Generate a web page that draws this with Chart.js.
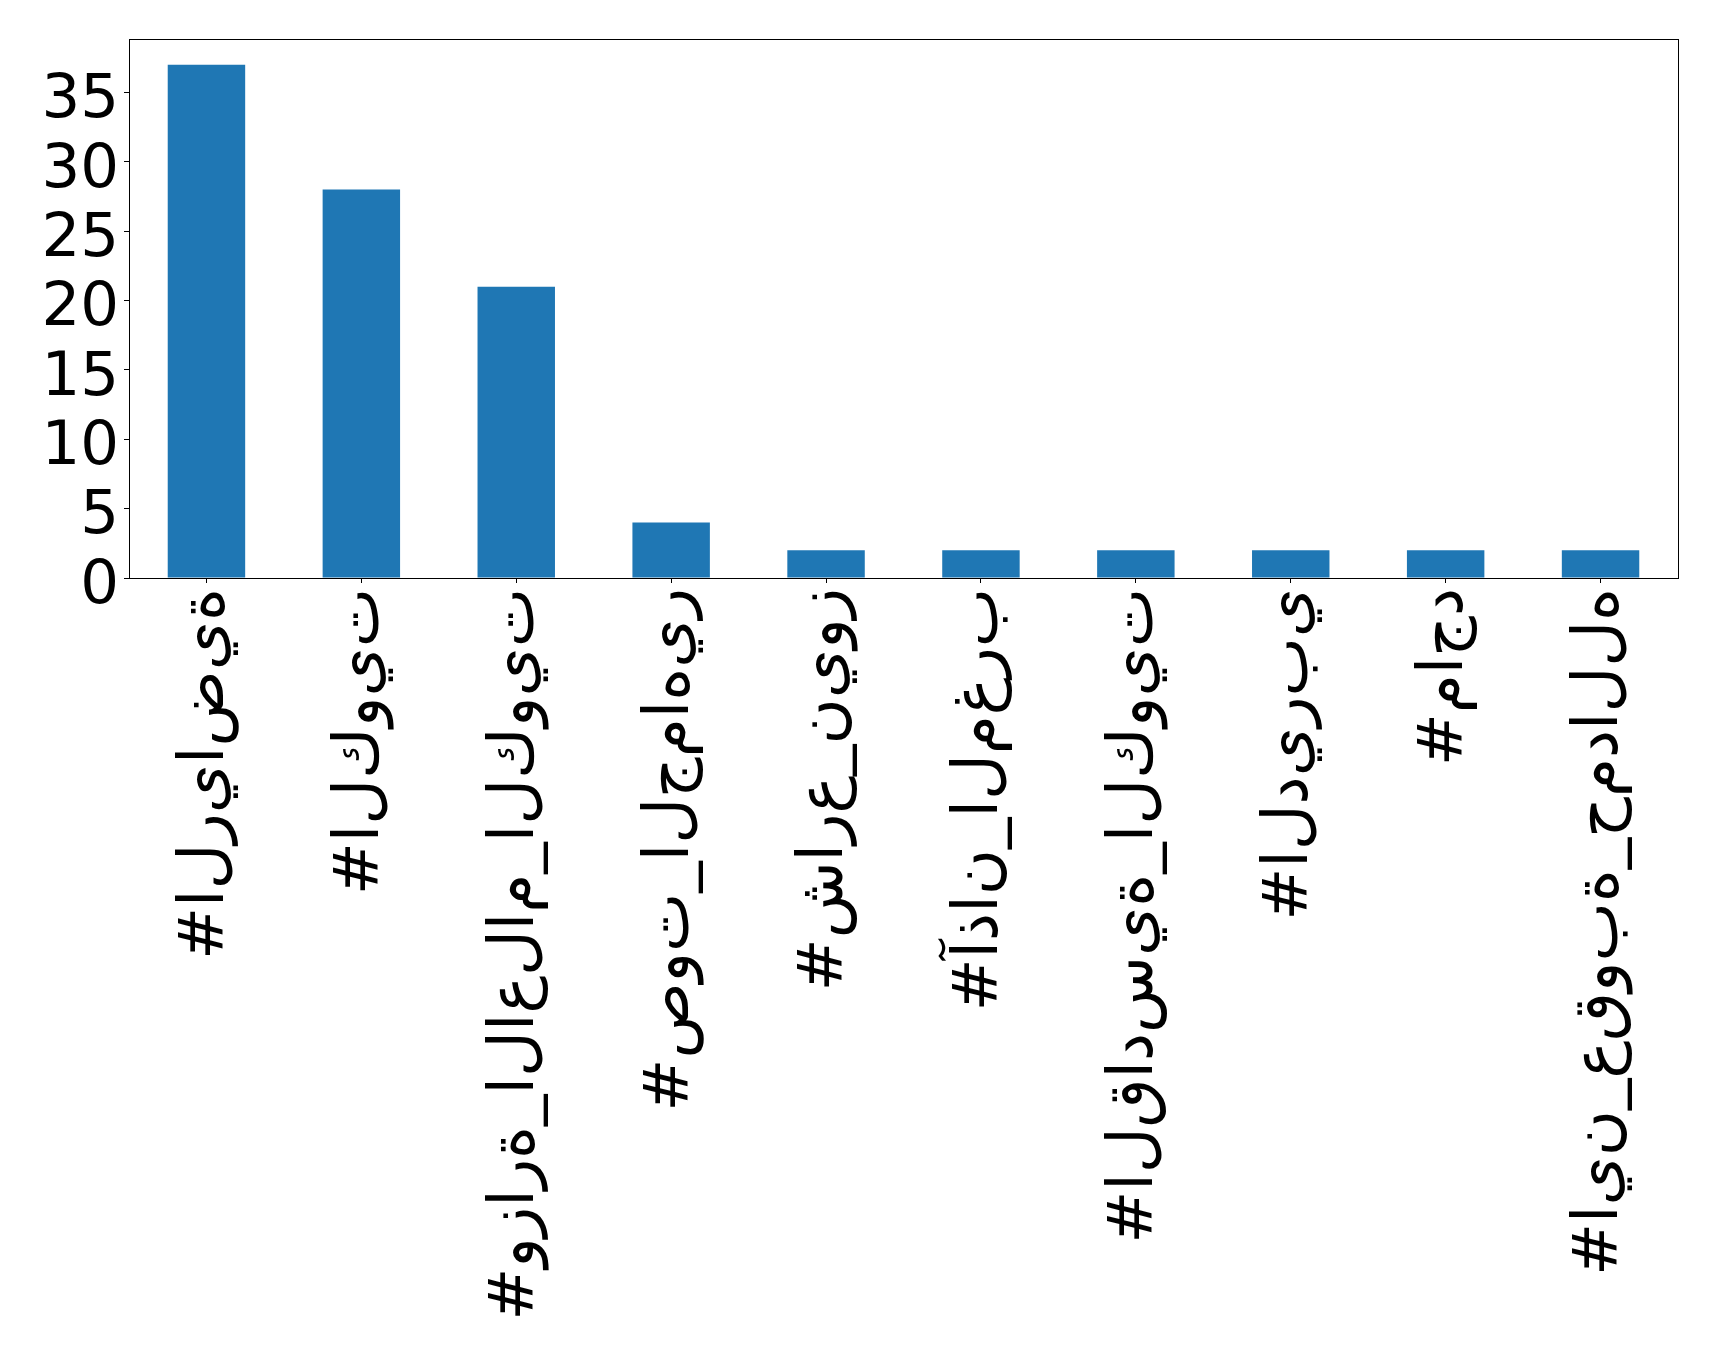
<!DOCTYPE html>
<html>
<head>
<meta charset="utf-8">
<style>
  html, body { margin: 0; padding: 0; background: #fff; }
  #wrap { width: 1719px; height: 1355px; }
</style>
<script src="https://cdn.jsdelivr.net/npm/chart.js@4.4.0/dist/chart.umd.min.js"></script>
</head>
<body>
<div id="wrap"><canvas id="barChart" width="1719" height="1355"></canvas></div>
<script>
// hashtags and their counts
var hashtags = ['#الرياضية', '#الكويت', '#وزارة_الاعلام_الكويت', '#صوت_الجماهير', '#شارع_نيوز',
                '#آذان_المغرب', '#القادسية_الكويت', '#الديربي', '#ماجد', '#اين_عقوبة_حمدالله'];
var counts = [37, 28, 21, 4, 2, 2, 2, 2, 2, 2];
var yTicks = [0, 5, 10, 15, 20, 25, 30, 35];
var yMax = 38.85;

// the source plot drew the letters unjoined, left to right
function unjoined(s) {
  return '\u202D' + Array.from(s).join('\u200C') + '\u202C';
}

var frame = {
  id: 'frame',
  afterDraw: function (chart) {
    var a = chart.chartArea, c = chart.ctx;
    c.save();
    c.strokeStyle = '#000';
    c.lineWidth = 1;
    c.strokeRect(Math.round(a.left) + 0.5, Math.round(a.top) + 0.5,
                 Math.round(a.right - a.left), Math.round(a.bottom - a.top));
    c.restore();
  }
};

var ctx = document.getElementById('barChart').getContext('2d');
var barChart = new Chart(ctx, {
  type: 'bar',
  data: {
    labels: hashtags,
    datasets: [{
      data: counts,
      backgroundColor: '#1f77b4',
      borderWidth: 0,
      barPercentage: 0.5,
      categoryPercentage: 1.0
    }]
  },
  options: {
    responsive: false,
    animation: false,
    layout: { padding: { left: 0, top: 39, right: 41, bottom: 0 } },
    plugins: { legend: { display: false }, tooltip: { enabled: false } },
    scales: {
      x: {
        grid: { display: true, offset: false, drawOnChartArea: false, color: '#000', tickLength: 5 },
        border: { color: '#000' },
        afterFit: function (scale) { scale.height = 777; },
        ticks: {
          autoSkip: false,
          minRotation: 90,
          maxRotation: 90,
          padding: 5,
          color: '#000',
          font: { family: 'DejaVu Sans', size: 63 },
          callback: function (v, i) { return unjoined(hashtags[i]); }
        }
      },
      y: {
        min: 0,
        max: yMax,
        grid: { display: true, drawOnChartArea: false, color: '#000', tickLength: 5 },
        border: { color: '#000' },
        afterFit: function (scale) { scale.width = 129; },
        afterBuildTicks: function (scale) {
          scale.ticks = yTicks.map(function (v) { return { value: v }; });
        },
        ticks: {
          autoSkip: false,
          padding: 5,
          labelOffset: 9,
          color: '#000',
          font: { family: 'DejaVu Sans', size: 61, lineHeight: 1.0 }
        }
      }
    }
  },
  plugins: [frame]
});
</script>
</body>
</html>
